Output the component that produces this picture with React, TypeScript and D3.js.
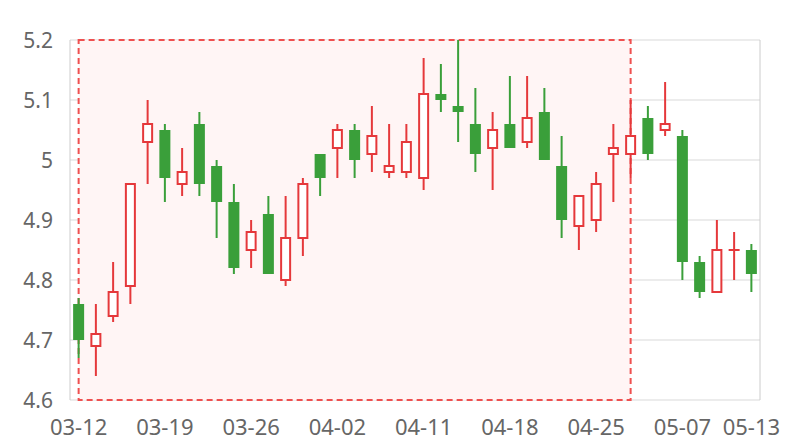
import React from "react";
import * as d3 from "d3";

const dates = [
  "03-12", "03-13", "03-14", "03-15", "03-18", "03-19", "03-20", "03-21", "03-22", "03-25",
  "03-26", "03-27", "03-28", "03-29", "04-01", "04-02", "04-03", "04-08", "04-09", "04-10",
  "04-11", "04-12", "04-15", "04-16", "04-17", "04-18", "04-19", "04-22", "04-23", "04-24",
  "04-25", "04-26", "04-29", "04-30", "05-06", "05-07", "05-08", "05-09", "05-10", "05-13",
];
const opens = [
  4.76, 4.69, 4.74, 4.79, 5.03, 5.05, 4.96, 5.06, 4.99, 4.93,
  4.85, 4.91, 4.80, 4.87, 5.01, 5.02, 5.05, 5.01, 4.98, 4.98,
  4.97, 5.11, 5.09, 5.06, 5.02, 5.06, 5.03, 5.08, 4.99, 4.89,
  4.90, 5.01, 5.01, 5.07, 5.05, 5.04, 4.83, 4.78, 4.85, 4.85,
];
const closes = [
  4.70, 4.71, 4.78, 4.96, 5.06, 4.97, 4.98, 4.96, 4.93, 4.82,
  4.88, 4.81, 4.87, 4.96, 4.97, 5.05, 5.00, 5.04, 4.99, 5.03,
  5.11, 5.10, 5.08, 5.01, 5.05, 5.02, 5.07, 5.00, 4.90, 4.94,
  4.96, 5.02, 5.04, 5.01, 5.06, 4.83, 4.78, 4.85, 4.85, 4.81,
];
const highs = [
  4.77, 4.76, 4.83, 4.96, 5.10, 5.06, 5.02, 5.08, 5.00, 4.96,
  4.90, 4.94, 4.94, 4.97, 5.01, 5.06, 5.06, 5.09, 5.06, 5.06,
  5.17, 5.16, 5.20, 5.12, 5.08, 5.14, 5.14, 5.12, 5.04, 4.94,
  4.98, 5.06, 5.10, 5.09, 5.13, 5.05, 4.84, 4.90, 4.88, 4.86,
];
const lows = [
  4.67, 4.64, 4.73, 4.76, 4.96, 4.93, 4.94, 4.94, 4.87, 4.81,
  4.82, 4.81, 4.79, 4.84, 4.94, 4.97, 4.97, 4.98, 4.97, 4.97,
  4.95, 5.08, 5.03, 4.98, 4.95, 5.02, 5.02, 5.00, 4.87, 4.85,
  4.88, 4.93, 4.97, 5.00, 5.04, 4.80, 4.77, 4.78, 4.80, 4.78,
];
const yTicks = [4.6, 4.7, 4.8, 4.9, 5.0, 5.1, 5.2];
const markStart = "03-12";
const markEnd = "04-29";

const W = 800;
const H = 440;
const M = { left: 70, right: 40, top: 40, bottom: 40 };
const RED = "#e5383b";
const GREEN = "#3a9f3a";
const FONT = "'Noto Sans', 'Open Sans', sans-serif";

export default function App() {
  const x = d3
    .scaleBand<string>()
    .domain(dates)
    .range([M.left, W - M.right])
    .padding(0);
  const y = d3.scaleLinear().domain([4.6, 5.2]).range([H - M.bottom, M.top]);
  const bw = x.bandwidth();
  const cx = (d: string) => (x(d) as number) + bw / 2;
  const bodyW = 11;

  const mx0 = cx(markStart);
  const mx1 = cx(markEnd);

  return (
    <svg
      width={W}
      height={H}
      style={{ position: "absolute", left: 0, top: 0, background: "#fff" }}
      fontFamily={FONT}
    >
      {/* grid */}
      {yTicks.map((t) => (
        <line
          key={"g" + t}
          x1={M.left}
          x2={W - M.right}
          y1={y(t)}
          y2={y(t)}
          stroke="#d9d9d9"
          strokeWidth={1}
        />
      ))}
      <line x1={M.left} x2={M.left} y1={M.top} y2={H - M.bottom} stroke="#cccccc" />
      <line x1={W - M.right} x2={W - M.right} y1={M.top} y2={H - M.bottom} stroke="#cccccc" />

      {/* mark area */}
      <rect
        x={mx0}
        y={y(5.2)}
        width={mx1 - mx0}
        height={y(4.6) - y(5.2)}
        fill="#fff5f5"
        stroke="#ef5050"
        strokeWidth={2}
        strokeDasharray="6,4"
      />

      {/* candles */}
      {dates.map((d, i) => {
        const o = opens[i];
        const c = closes[i];
        const up = c >= o;
        const col = up ? RED : GREEN;
        const top = y(Math.max(o, c));
        const bot = y(Math.min(o, c));
        const xc = cx(d);
        return (
          <g key={d}>
            <line x1={xc} x2={xc} y1={y(highs[i])} y2={y(lows[i])} stroke={col} strokeWidth={2} />
            {up ? (
              bot - top < 1 ? (
                <line x1={xc - bodyW / 2} x2={xc + bodyW / 2} y1={top} y2={top} stroke={col} strokeWidth={2} />
              ) : (
                <rect
                  x={xc - bodyW / 2 + 1}
                  y={top}
                  width={bodyW - 2}
                  height={bot - top}
                  fill="#ffffff"
                  stroke={col}
                  strokeWidth={2}
                />
              )
            ) : (
              <rect
                x={xc - bodyW / 2}
                y={top}
                width={bodyW}
                height={Math.max(bot - top, 1)}
                fill={col}
              />
            )}
          </g>
        );
      })}

      {/* y labels */}
      {yTicks.map((t) => (
        <text
          key={"yl" + t}
          x={53}
          y={y(t)}
          textAnchor="end"
          dominantBaseline="central"
          fontSize={21}
          fill="#666666"
        >
          {String(+t.toFixed(1))}
        </text>
      ))}

      {/* x labels */}
      {dates.map((d, i) =>
        i % 5 === 0 || i === dates.length - 1 ? (
          <text
            key={"xl" + d}
            x={cx(d)}
            y={435}
            textAnchor="middle"
            fontSize={22}
            fill="#666666"
          >
            {d}
          </text>
        ) : null
      )}
    </svg>
  );
}
